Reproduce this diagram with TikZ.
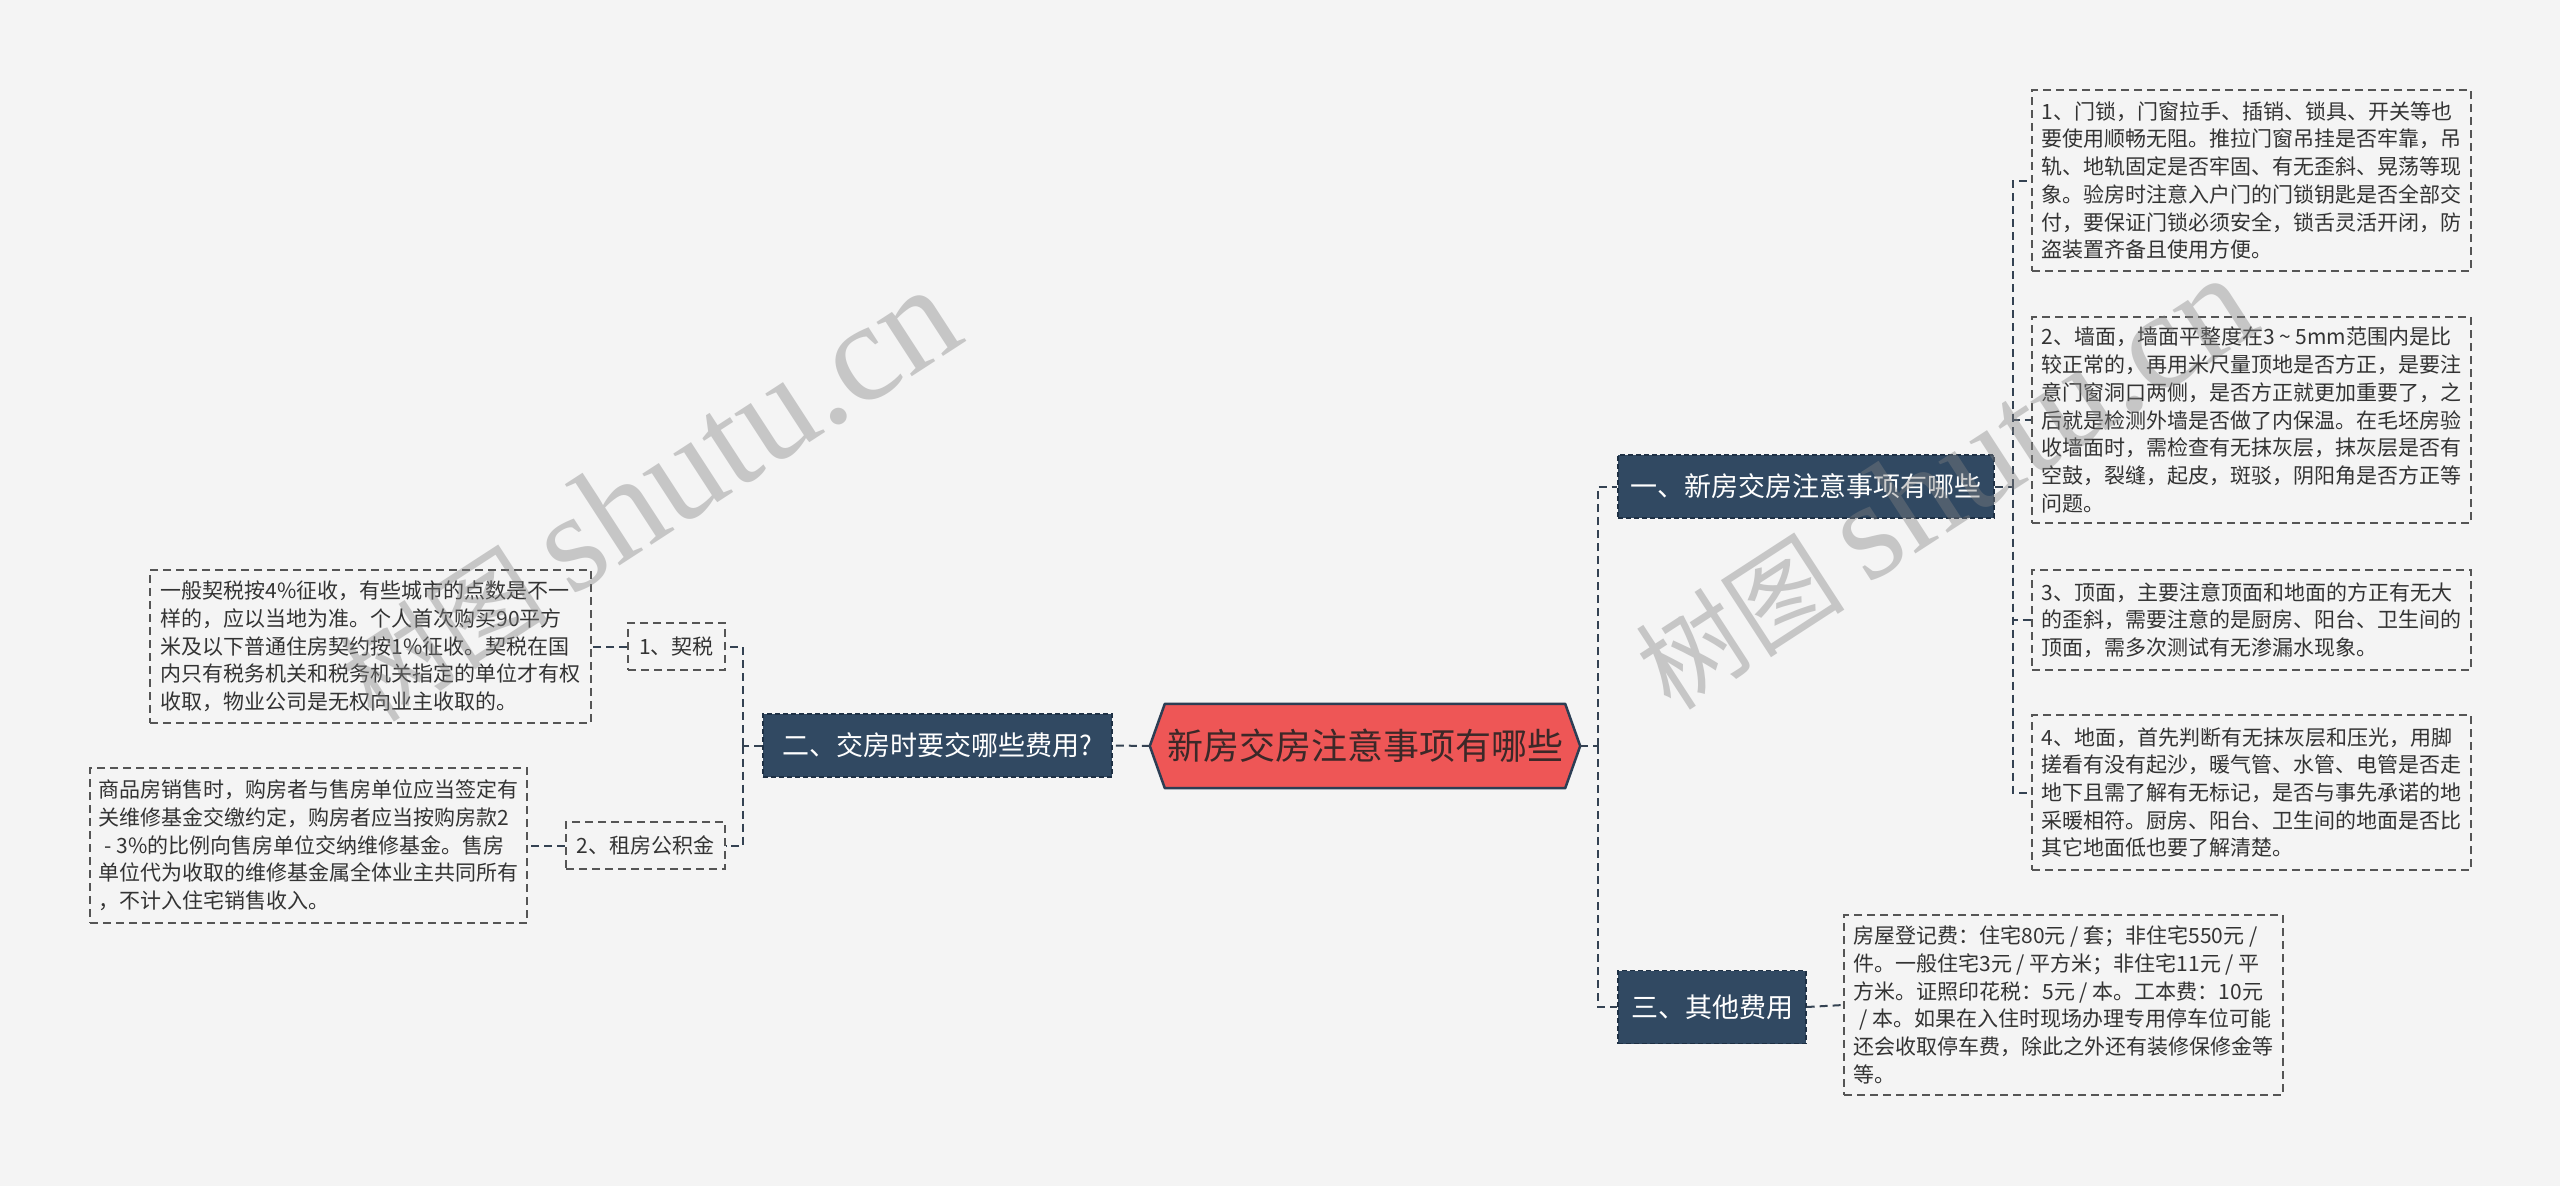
\documentclass[tikz,border=0pt]{standalone}
\usepackage{fontspec}
\setmainfont{Noto Sans CJK SC}
\newfontfamily\wmserif{Liberation Serif}
\definecolor{bgc}{RGB}{244,244,244}
\definecolor{rootfill}{RGB}{238,86,86}
\definecolor{rootdraw}{RGB}{44,62,84}
\definecolor{roottext}{RGB}{60,40,40}
\definecolor{bfill}{RGB}{49,73,98}
\definecolor{bdraw}{RGB}{30,48,68}
\definecolor{leafc}{RGB}{85,85,85}
\definecolor{textc}{RGB}{51,51,51}
\definecolor{connc}{RGB}{52,66,82}
\definecolor{wmc}{RGB}{130,130,130}
\begin{document}
\begin{tikzpicture}[x=1pt,y=-1pt,
  leaf/.style={draw=leafc, dash pattern=on 8pt off 5pt, line width=1.6pt, text=textc, align=left, font=\fontsize{21}{27.7}\selectfont, inner sep=0pt},
  small/.style={leaf, align=center},
  branch/.style={fill=bfill, draw=bdraw, dash pattern=on 5pt off 3pt, line width=1.4pt, text=white, font=\fontsize{27}{32}\selectfont, inner sep=0pt},
  conn/.style={draw=connc, dash pattern=on 8pt off 5pt, line width=2pt},
  wm/.style={text=wmc, text opacity=0.4, rotate=33, anchor=base west, inner sep=0pt}]
\fill[bgc] (0,0) rectangle (2560,1186);
\useasboundingbox (0,0) rectangle (2560,1186);

% root
\node[inner sep=0pt, minimum width=430pt, minimum height=84pt] (root) at (1365,746) {};
\fill[rootfill] (root.west) -- ([xshift=15pt]root.north west) -- ([xshift=-15pt]root.north east) -- (root.east) -- ([xshift=-15pt]root.south east) -- ([xshift=15pt]root.south west) -- cycle;
\draw[rootdraw, line width=2.5pt, line join=round] (root.west) -- ([xshift=15pt]root.north west) -- ([xshift=-15pt]root.north east) -- (root.east) -- ([xshift=-15pt]root.south east) -- ([xshift=15pt]root.south west) -- cycle;
\node[inner sep=0pt, text=roottext, font=\fontsize{36}{40}\selectfont] (roottxt) at (root.center) {新房交房注意事项有哪些};

% branches
\node[branch, minimum width=376pt, minimum height=63pt] (b1) at (1806,486.5) {一、新房交房注意事项有哪些};
\node[branch, minimum width=349pt, minimum height=63pt] (b2) at (937.5,745.5) {二、交房时要交哪些费用?};
\node[branch, minimum width=188pt, minimum height=73pt] (b3) at (1712,1007) {三、其他费用};

% right leaves
\node[leaf, minimum width=439pt, minimum height=181pt] (l1) at (2251.5,180.5) {1、门锁，门窗拉手、插销、锁具、开关等也\\要使用顺畅无阻。推拉门窗吊挂是否牢靠，吊\\轨、地轨固定是否牢固、有无歪斜、晃荡等现\\象。验房时注意入户门的门锁钥匙是否全部交\\付，要保证门锁必须安全，锁舌灵活开闭，防\\盗装置齐备且使用方便。};
\node[leaf, minimum width=439pt, minimum height=206pt] (l2) at (2251.5,420) {2、墙面，墙面平整度在3 \textasciitilde{} 5mm范围内是比\\较正常的，再用米尺量顶地是否方正，是要注\\意门窗洞口两侧，是否方正就更加重要了，之\\后就是检测外墙是否做了内保温。在毛坯房验\\收墙面时，需检查有无抹灰层，抹灰层是否有\\空鼓，裂缝，起皮，斑驳，阴阳角是否方正等\\问题。};
\node[leaf, minimum width=439pt, minimum height=100pt] (l3) at (2251.5,620) {3、顶面，主要注意顶面和地面的方正有无大\\的歪斜，需要注意的是厨房、阳台、卫生间的\\顶面，需多次测试有无渗漏水现象。};
\node[leaf, minimum width=439pt, minimum height=155pt] (l4) at (2251.5,792.5) {4、地面，首先判断有无抹灰层和压光，用脚\\搓看有没有起沙，暖气管、水管、电管是否走\\地下且需了解有无标记，是否与事先承诺的地\\采暖相符。厨房、阳台、卫生间的地面是否比\\其它地面低也要了解清楚。};
\node[leaf, minimum width=439pt, minimum height=180pt] (l5) at (2063.5,1005) {房屋登记费：住宅80元 / 套；非住宅550元 /\\件。一般住宅3元 / 平方米；非住宅11元 / 平\\方米。证照印花税：5元 / 本。工本费：10元\\\hspace*{0.3em}/ 本。如果在入住时现场办理专用停车位可能\\还会收取停车费，除此之外还有装修保修金等\\等。};

% left sub nodes
\node[small, minimum width=97pt, minimum height=47pt] (k1) at (676.5,646.5) {1、契税};
\node[small, minimum width=159pt, minimum height=47pt] (k2) at (645.5,845.5) {2、租房公积金};
\node[leaf, minimum width=441pt, minimum height=153pt] (lk1) at (370.5,646.5) {一般契税按4\%征收，有些城市的点数是不一\\样的，应以当地为准。个人首次购买90平方\\米及以下普通住房契约按1\%征收。契税在国\\内只有税务机关和税务机关指定的单位才有权\\收取，物业公司是无权向业主收取的。};
\node[leaf, minimum width=437pt, minimum height=155pt] (lk2) at (308.5,845.5) {商品房销售时，购房者与售房单位应当签定有\\关维修基金交缴约定，购房者应当按购房款2\\\hspace*{0.3em}- 3\%的比例向售房单位交纳维修基金。售房\\单位代为收取的维修基金属全体业主共同所有\\，不计入住宅销售收入。};

% junctions
\coordinate (jr) at (1598,746);
\coordinate (j1) at (2013,486.5);
\coordinate (jl) at (743,745.5);

% connectors
\draw[conn] (root.east) -- (jr);
\draw[conn] (jr) |- (b1.west);
\draw[conn] (jr) |- (b3.west);
\draw[conn] (b1.east) -- (j1);
\draw[conn] (j1) |- (l1.west);
\draw[conn] (j1) |- (l2.west);
\draw[conn] (j1) |- (l3.west);
\draw[conn] (j1) |- (l4.west);
\draw[conn] (b3.east) -- (l5.west);
\draw[conn] (root.west) -- (b2.east);
\draw[conn] (b2.west) -- (jl);
\draw[conn] (jl) |- (k1.east);
\draw[conn] (jl) |- (k2.east);
\draw[conn] (k1.west) -- (lk1.east);
\draw[conn] (k2.west) -- (lk2.east);

% watermarks
\node[wm] (wm1) at (375,725) {{\fontsize{105}{105}\selectfont 树图 }{\wmserif\fontsize{141}{141}\selectfont shutu.cn}};
\node[wm] (wm2) at (1671,713) {{\fontsize{105}{105}\selectfont 树图 }{\wmserif\fontsize{141}{141}\selectfont shutu.cn}};
\end{tikzpicture}
\end{document}
